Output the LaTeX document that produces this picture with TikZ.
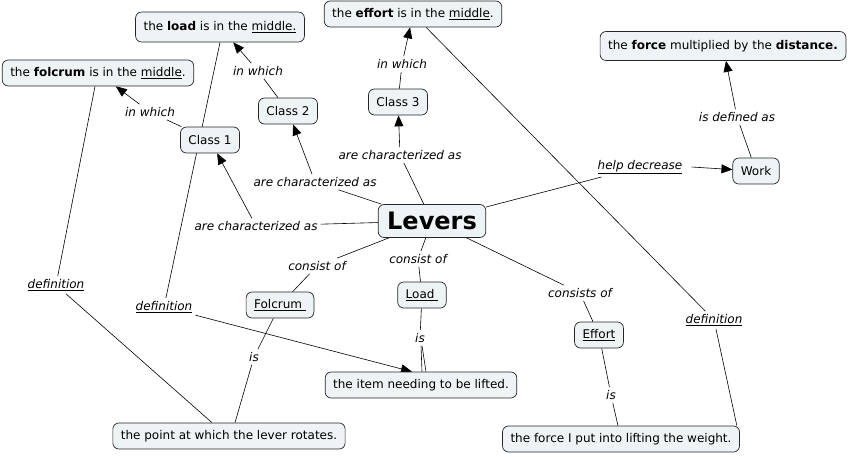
\documentclass[tikz,border=0pt]{standalone}
\usepackage{fontspec}
\setmainfont{DejaVu Sans}
\usetikzlibrary{arrows.meta,backgrounds}
\definecolor{cmapfill}{RGB}{238,243,246}
\begin{document}
\begin{tikzpicture}[
  x=1pt, y=-1pt,
  every node/.style={font=\fontsize{12}{14}\selectfont},
  concept/.style={draw=black!85, fill=cmapfill, rounded corners=6pt, line width=0.7pt,
    inner xsep=8pt, minimum height=26pt},
  phrase/.style={font=\fontsize{12}{14}\selectfont\itshape, inner sep=3pt},
  link/.style={draw, line width=0.6pt},
  linkto/.style={link, -{Triangle[length=11pt,width=9pt]}}
]
\useasboundingbox (0,0) rectangle (848,456);
% concepts
\node[concept, font=\fontsize{24}{26}\selectfont\bfseries, minimum height=33pt, inner xsep=9pt] (lev) at (432,221) {Levers};
\node[concept] (cls1) at (210,140) {Class 1};
\node[concept] (cls2) at (288,111) {Class 2};
\node[concept] (cls3) at (398,102) {Class 3};
\node[concept] (work) at (756,171) {Work};
\node[concept, minimum height=30pt] (ldmid) at (220,27) {the \textbf{load} is in the \underline{middle.}};
\node[concept] (flmid) at (98,73) {the \textbf{folcrum} is in the \underline{middle}.};
\node[concept] (efmid) at (413,14) {the \textbf{effort} is in the \underline{middle}.};
\node[concept, minimum height=29pt] (fdist) at (723,46) {the \textbf{force} multiplied by the \textbf{distance.}};
\node[concept] (fol) at (280,305) {\underline{Folcrum\ }};
\node[concept] (load) at (422,295) {\underline{Load\ }};
\node[concept] (eff) at (599,335) {\underline{Effort}};
\node[concept] (item) at (421,385) {the item needing to be lifted.};
\node[concept] (pivot) at (229,436) {the point at which the lever rotates.};
\node[concept] (force) at (621,439) {the force I put into lifting the weight.};
% linking phrases
\node[phrase] (ch1) at (256,226) {are characterized as};
\node[phrase] (ch2) at (315,182) {are characterized as};
\node[phrase] (ch3) at (400,155) {are characterized as};
\node[phrase] (in1) at (150,112) {in which};
\node[phrase] (in2) at (258,71) {in which};
\node[phrase] (in3) at (402,64) {in which};
\node[phrase] (help) at (640,167) {\underline{help decrease}};
\node[phrase] (defas) at (737,117) {is defined as};
\node[phrase] (co1) at (317,266) {consist of};
\node[phrase] (co2) at (418,259) {consist of};
\node[phrase] (co3) at (580,293) {consists of};
\node[phrase] (is1) at (254,357) {is};
\node[phrase] (is2) at (420,338) {is};
\node[phrase] (is3) at (611,395) {is};
\node[phrase] (def1) at (56,285) {\underline{definition}};
\node[phrase] (def2) at (164,307) {\underline{definition}};
\node[phrase] (def3) at (714,320) {\underline{definition}};
% connectors
\begin{scope}[on background layer]
\draw[link] (lev) -- (ch1);
\draw[linkto] (ch1) -- (cls1);
\draw[link] (lev) -- (ch2);
\draw[linkto] (ch2) -- (cls2);
\draw[link] (lev) -- (ch3);
\draw[linkto] (ch3) -- (cls3);
\draw[link] (cls1) -- (in1);
\draw[linkto] (in1) -- (flmid);
\draw[link] (cls2) -- (in2);
\draw[linkto] (in2) -- (ldmid);
\draw[link] (cls3) -- (in3);
\draw[linkto] (in3) -- (efmid);
\draw[link] (lev) -- (help);
\draw[linkto] ([xshift=6pt]help.east) -- (work);
\draw[link] (work) -- (defas);
\draw[linkto] (defas) -- (fdist);
\draw[link] (lev) -- (co1);
\draw[link] (co1) -- (fol);
\draw[link] (lev) -- (co2);
\draw[link] (co2) -- (load);
\draw[link] (lev) -- (co3);
\draw[link] (co3) -- (eff);
\draw[link] (fol) -- (is1);
\draw[link] (is1) -- ([xshift=6pt]pivot.north);
\draw[link] (load) -- (is2);
\draw[link] ([xshift=1pt]is2.south) -- ([xshift=1pt]item.north);
\draw[link] ([xshift=2pt]is2.south) -- ([xshift=5pt]item.north);
\draw[link] (eff) -- (is3);
\draw[link] (is3) -- (force);
\draw[link] ([xshift=-3pt]flmid.south) -- (def1);
\draw[link] (def1) -- ([xshift=-17pt]pivot.north);
\draw[link] (ldmid.south) -- (def2);
\draw[linkto] (def2) -- ([xshift=-9pt]item.north);
\draw[link] (efmid) -- (def3);
\draw[link] (def3) -- ([xshift=-3pt]force.north east);
\end{scope}
\end{tikzpicture}
\end{document}
